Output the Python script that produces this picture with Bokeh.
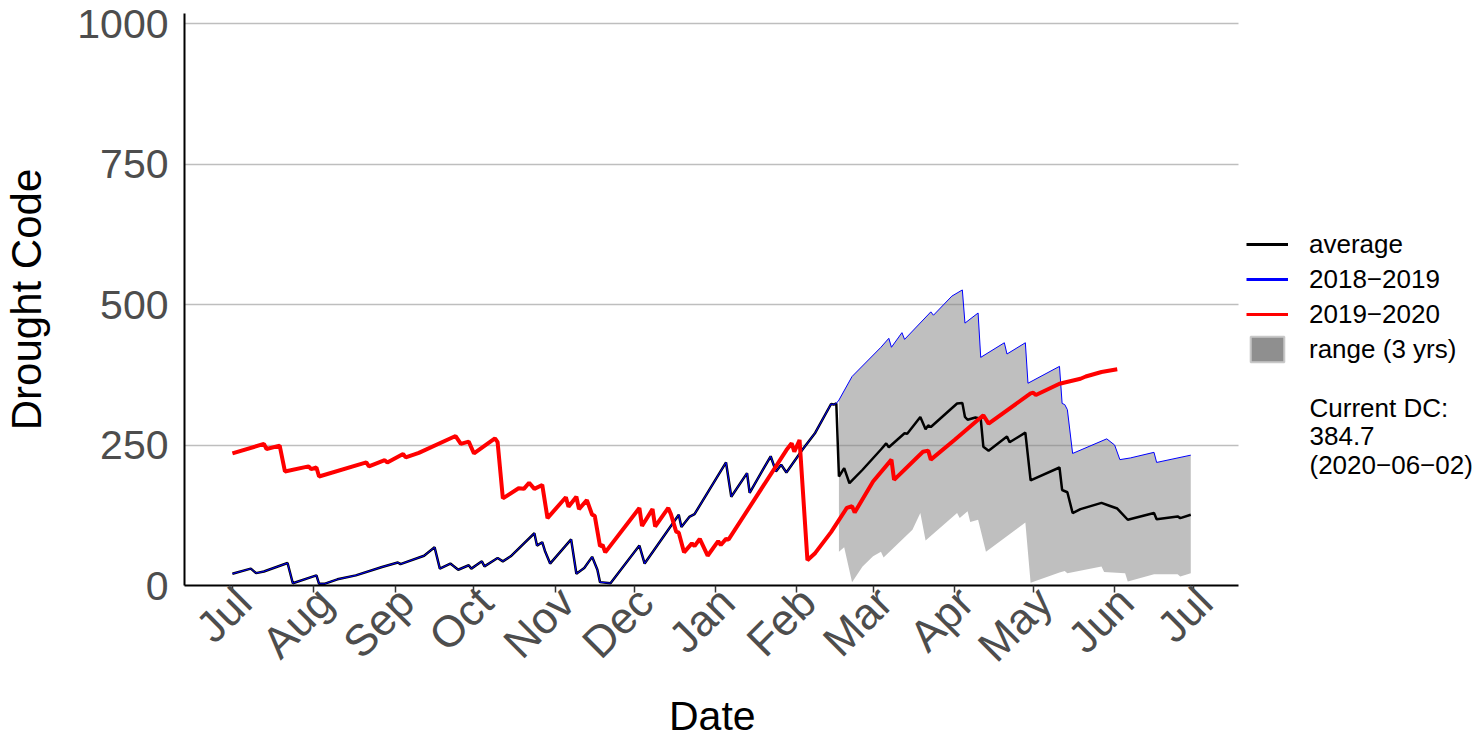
import math
import pandas as pd
from bokeh.plotting import figure
from bokeh.models import (Range1d, FixedTicker, DatetimeTickFormatter, DatetimeAxis,
                          Legend, LegendItem, Label, Title)
from bokeh.embed import file_html
from bokeh.resources import INLINE

FONT = "Liberation Sans"

# ---------------- data ----------------
month_ticks = ["2019-07-01", "2019-08-01", "2019-09-01", "2019-10-01", "2019-11-01",
               "2019-12-01", "2020-01-01", "2020-02-01", "2020-03-01", "2020-04-01",
               "2020-05-01", "2020-06-01", "2020-07-01"]
y_ticks = [0, 250, 500, 750, 1000]

# 2019-2020 season
red_dates = ["2019-07-01", "2019-07-13", "2019-07-14", "2019-07-19", "2019-07-21",
             "2019-07-30", "2019-07-31", "2019-08-02", "2019-08-03", "2019-08-21",
             "2019-08-22", "2019-08-28", "2019-08-29", "2019-09-04", "2019-09-05",
             "2019-09-10", "2019-09-24", "2019-09-26", "2019-09-29", "2019-10-01",
             "2019-10-09", "2019-10-10", "2019-10-12", "2019-10-18", "2019-10-20",
             "2019-10-22", "2019-10-24", "2019-10-27", "2019-10-29", "2019-11-05",
             "2019-11-06", "2019-11-09", "2019-11-10", "2019-11-13", "2019-11-15",
             "2019-11-16", "2019-11-18", "2019-11-19", "2019-11-20", "2019-12-03",
             "2019-12-04", "2019-12-08", "2019-12-09", "2019-12-14", "2019-12-15",
             "2019-12-17", "2019-12-18", "2019-12-20", "2019-12-23", "2019-12-24",
             "2019-12-26", "2019-12-29", "2020-01-02", "2020-01-03", "2020-01-05",
             "2020-01-06", "2020-01-28", "2020-01-30", "2020-01-31", "2020-02-02",
             "2020-02-05", "2020-02-08", "2020-02-14", "2020-02-20", "2020-02-22",
             "2020-02-23", "2020-03-01", "2020-03-08", "2020-03-09", "2020-03-20",
             "2020-03-22", "2020-03-23", "2020-04-01", "2020-04-12", "2020-04-14",
             "2020-04-30", "2020-05-01", "2020-05-02", "2020-05-11", "2020-05-19",
             "2020-05-21", "2020-05-27", "2020-06-02"]
red_vals = [235, 252, 243, 249, 203,
            212, 207, 210, 194, 219,
            212, 223, 219, 234, 228,
            236, 266, 252, 256, 235,
            262, 255, 155, 173, 172,
            183, 172, 179, 120, 157,
            140, 158, 136, 152, 126,
            124, 70, 72, 59, 138,
            106, 136, 105, 138, 127,
            96, 94, 59, 75, 70,
            83, 53, 79, 72, 83,
            82, 241, 253, 238, 259,
            45, 58, 95, 138, 141,
            130, 185, 224, 188, 238,
            240, 224, 259, 303, 288,
            342, 343, 339, 359, 368,
            372, 380, 384.7]

# dates before the range starts (shared by average and 2018-2019)
early_dates = ["2019-07-01", "2019-07-08", "2019-07-10", "2019-07-13", "2019-07-22",
               "2019-07-24", "2019-08-02", "2019-08-03", "2019-08-05", "2019-08-10",
               "2019-08-17", "2019-08-27", "2019-09-02", "2019-09-03", "2019-09-12",
               "2019-09-16", "2019-09-18", "2019-09-22", "2019-09-25", "2019-09-29",
               "2019-09-30", "2019-10-04", "2019-10-05", "2019-10-10", "2019-10-12",
               "2019-10-15", "2019-10-24", "2019-10-25", "2019-10-27", "2019-10-28",
               "2019-10-30", "2019-11-07", "2019-11-09", "2019-11-12", "2019-11-15",
               "2019-11-17", "2019-11-18", "2019-11-22", "2019-12-03", "2019-12-05",
               "2019-12-18", "2019-12-19", "2019-12-22", "2019-12-24", "2020-01-05",
               "2020-01-07", "2020-01-13", "2020-01-14", "2020-01-22", "2020-01-24",
               "2020-01-26", "2020-01-28", "2020-02-03", "2020-02-08", "2020-02-14",
               "2020-02-15", "2020-02-16"]
early_vals = [21, 30, 22, 25, 40,
              4, 18, 3, 3, 11,
              18, 33, 41, 38, 53,
              68, 30, 39, 28, 36,
              30, 43, 34, 49, 43,
              52, 93, 71, 77, 62,
              39, 82, 21, 31, 51,
              28, 6, 4, 71, 39,
              126, 104, 122, 127, 219,
              158, 200, 165, 230, 203,
              215, 201, 241, 272, 323,
              322, 324]

avg_late_dates = ["2020-02-17", "2020-02-19", "2020-02-21", "2020-02-26", "2020-03-04",
                  "2020-03-06", "2020-03-07", "2020-03-13", "2020-03-14", "2020-03-19",
                  "2020-03-21", "2020-03-22", "2020-03-23", "2020-04-02", "2020-04-04",
                  "2020-04-05", "2020-04-06", "2020-04-09", "2020-04-11", "2020-04-12",
                  "2020-04-14", "2020-04-21", "2020-04-22", "2020-04-28", "2020-04-30",
                  "2020-05-11", "2020-05-12", "2020-05-14", "2020-05-16", "2020-05-19",
                  "2020-05-27", "2020-05-30", "2020-06-02", "2020-06-06", "2020-06-16",
                  "2020-06-17", "2020-06-25", "2020-06-26", "2020-06-30"]
avg_late_vals = [194, 209, 182, 206, 242,
                 253, 246, 271, 270, 300,
                 278, 285, 282, 324, 325,
                 300, 295, 299, 297, 247,
                 240, 265, 255, 272, 187,
                 210, 170, 166, 129, 136,
                 147, 142, 137, 117, 129,
                 118, 123, 120, 126]

y1819_late_dates = ["2020-02-17", "2020-02-22", "2020-03-04", "2020-03-07", "2020-03-08",
                    "2020-03-12", "2020-03-13", "2020-03-23", "2020-03-24", "2020-03-31",
                    "2020-04-04", "2020-04-05", "2020-04-10", "2020-04-11", "2020-04-20",
                    "2020-04-21", "2020-04-28", "2020-04-29", "2020-05-11", "2020-05-12",
                    "2020-05-13", "2020-05-14", "2020-05-16", "2020-05-29", "2020-06-01",
                    "2020-06-03", "2020-06-07", "2020-06-16", "2020-06-17", "2020-06-30"]
y1819_late_vals = [330, 372, 424, 440, 424,
                   450, 438, 487, 481, 515,
                   526, 467, 485, 406, 432,
                   412, 432, 360, 390, 324,
                   322, 313, 235, 261, 250,
                   224, 227, 237, 219, 232]

range_low_dates = ["2020-02-17", "2020-02-19", "2020-02-22", "2020-02-26", "2020-03-01",
                   "2020-03-04", "2020-03-05", "2020-03-16", "2020-03-19", "2020-03-21",
                   "2020-04-02", "2020-04-03", "2020-04-06", "2020-04-07", "2020-04-10",
                   "2020-04-13", "2020-04-28", "2020-04-30", "2020-05-11", "2020-05-13",
                   "2020-05-14", "2020-05-27", "2020-05-28", "2020-06-05", "2020-06-06",
                   "2020-06-16", "2020-06-25", "2020-06-26", "2020-06-30"]
range_low_vals = [60, 68, 6, 34, 52,
                  60, 50, 99, 129, 80,
                  129, 120, 132, 113, 117,
                  60, 112, 5, 23, 26,
                  22, 34, 24, 22, 7,
                  20, 20, 16, 22]

legend_labels = ["average", "2018\u22122019", "2019\u22122020", "range (3 yrs)"]
current_dc_lines = ["Current DC:", "384.7", "(2020\u221206\u221202)"]

# ---------------- layout constants (pixels / days) ----------------
W, H = 1479, 738
LEFT, TOP, BOTTOM = 183, 13, 152
PLOT_W = 1055                       # width of the data panel (axis extent)
FRAME_W = W - LEFT                  # frame extends under the legend area
PAD_DAYS_LO, PAD_DAYS_HI = 18.25, 383.25
span_days = PAD_DAYS_HI + PAD_DAYS_LO
LABEL_SHIFT_PX = 11                 # month labels sit slightly right of their ticks
XTITLE_HALF_W = 43                  # half the width of the "Date" text at 41px

to_dt = pd.to_datetime
t0 = pd.Timestamp("2019-07-01")
x_lo = t0 - pd.Timedelta(days=PAD_DAYS_LO)
x_hi = t0 + pd.Timedelta(days=PAD_DAYS_HI)
x_frame_hi = x_lo + pd.Timedelta(days=span_days * FRAME_W / PLOT_W)
label_shift = pd.Timedelta(days=span_days * LABEL_SHIFT_PX / PLOT_W)
ms = lambda t: t.value / 1e6

p = figure(x_axis_type="datetime",
           x_range=Range1d(x_lo, x_frame_hi),
           y_range=Range1d(0, 1018),
           width=W, height=H,
           min_border_left=LEFT, min_border_right=0,
           min_border_top=TOP, min_border_bottom=BOTTOM,
           output_backend="svg", toolbar_location=None)
p.outline_line_color = None
p.background_fill_color = "white"
p.border_fill_color = "white"

# grid (horizontal only, limited to the data panel)
p.xgrid.grid_line_color = None
p.ygrid.ticker = FixedTicker(ticks=y_ticks)
if "cross_bounds" in p.ygrid[0].properties():
    p.ygrid.grid_line_color = "#BEBEBE"
    p.ygrid.grid_line_width = 1.3
    p.ygrid.cross_bounds = (ms(x_lo), ms(x_hi))
else:
    p.ygrid.grid_line_color = None
    p.segment(x0=[x_lo] * len(y_ticks), x1=[x_hi] * len(y_ticks), y0=y_ticks, y1=y_ticks,
              line_color="#BEBEBE", line_width=1.3)

# y axis
p.yaxis.ticker = FixedTicker(ticks=y_ticks)
p.yaxis.axis_line_color = "black"
p.yaxis.axis_line_width = 2
p.yaxis.major_tick_out = 0
p.yaxis.major_tick_in = 0
p.yaxis.minor_tick_out = 0
p.yaxis.minor_tick_in = 0
p.yaxis.major_label_standoff = 16
p.yaxis.major_label_text_font = FONT
p.yaxis.major_label_text_font_size = "41px"
p.yaxis.major_label_text_color = "#4D4D4D"
p.yaxis.axis_label = "Drought Code"
p.yaxis.axis_label_text_font = FONT
p.yaxis.axis_label_text_font_size = "42px"
p.yaxis.axis_label_text_font_style = "normal"
p.yaxis.axis_label_text_color = "black"
p.yaxis.axis_label_standoff = 24

month_formatter = DatetimeTickFormatter(months="%b", days="%b", years="%b",
                                        hours="%b", minutes="%b", seconds="%b")

# x axis: line + tick marks (labels drawn by a second axis)
p.xaxis.bounds = (ms(x_lo), ms(x_hi))
p.xaxis.ticker = FixedTicker(ticks=[ms(to_dt(d)) for d in month_ticks])
p.xaxis.formatter = month_formatter
p.xaxis.axis_line_color = "black"
p.xaxis.axis_line_width = 2
p.xaxis.major_tick_out = 7
p.xaxis.major_tick_in = 0
p.xaxis.major_tick_line_color = "#333333"
p.xaxis.major_tick_line_width = 1.5
p.xaxis.minor_tick_out = 0
p.xaxis.minor_tick_in = 0
p.xaxis.major_label_standoff = 0
p.xaxis.major_label_text_font_size = "1px"
p.xaxis.major_label_text_alpha = 0

# month labels, rotated 45 degrees
label_axis = DatetimeAxis(
    ticker=FixedTicker(ticks=[ms(to_dt(d) + label_shift) for d in month_ticks]),
    formatter=month_formatter,
    axis_line_color=None, major_tick_line_color=None, minor_tick_line_color=None,
    major_tick_out=0, major_tick_in=0, minor_tick_out=0, minor_tick_in=0,
    major_label_orientation=math.pi / 4, major_label_standoff=2,
    major_label_text_font=FONT, major_label_text_font_size="44px",
    major_label_text_color="#4D4D4D")
p.add_layout(label_axis, "below")

# x-axis title, centred on the data panel (left-aligned title + offset)
p.add_layout(Title(text="Date", align="left", offset=PLOT_W / 2 - XTITLE_HALF_W,
                   standoff=0, text_font=FONT, text_font_size="41px",
                   text_font_style="normal", text_color="black"), "below")

# ---------------- glyphs ----------------
avg_dates = early_dates + avg_late_dates
avg_vals = early_vals + avg_late_vals
y1819_dates = early_dates + y1819_late_dates
y1819_vals = early_vals + y1819_late_vals

# range band: upper edge follows 2018-2019 from range start, lower edge reversed
patch_x = list(to_dt(y1819_late_dates)) + list(to_dt(range_low_dates))[::-1]
patch_y = list(y1819_late_vals) + list(range_low_vals)[::-1]
p.patch(x=patch_x, y=patch_y, fill_color="#7F7F7F", fill_alpha=0.5, line_color=None)

p.line(x=to_dt(avg_dates), y=avg_vals, line_color="black", line_width=2.5)
p.line(x=to_dt(y1819_dates), y=y1819_vals, line_color="#0000FF", line_width=1)
p.line(x=to_dt(red_dates), y=red_vals, line_color="#FF0000", line_width=4)

# legend-only renderers (one invisible NaN point each)
nan = float("nan")
lg_avg = p.line(x=[t0], y=[nan], line_color="black", line_width=3)
lg_1819 = p.line(x=[t0], y=[nan], line_color="#0000FF", line_width=3)
lg_1920 = p.line(x=[t0], y=[nan], line_color="#FF0000", line_width=3)
lg_rng = p.quad(left=[t0], right=[t0], top=[nan], bottom=[nan], fill_color="#8F8F8F",
                line_color="#C8C8C8", line_width=2)

items = [LegendItem(label=legend_labels[i], renderers=[r])
         for i, r in enumerate([lg_avg, lg_1819, lg_1920, lg_rng])]

legend = Legend(items=items, location=(1062, 220), orientation="vertical",
                padding=0, margin=0, spacing=3,
                glyph_width=42, glyph_height=32, label_standoff=21,
                label_text_font=FONT, label_text_font_size="26px",
                label_text_color="black", label_text_baseline="middle",
                border_line_color=None, background_fill_alpha=0)
p.add_layout(legend)

for i, txt in enumerate(current_dc_lines):
    p.add_layout(Label(x=1125, y=178 - 28.7 * i, x_units="screen", y_units="screen",
                       text=txt, text_font=FONT, text_font_size="26px",
                       text_color="black", text_baseline="middle", text_align="left"))

open("out.html", "w").write(file_html(p, INLINE))
